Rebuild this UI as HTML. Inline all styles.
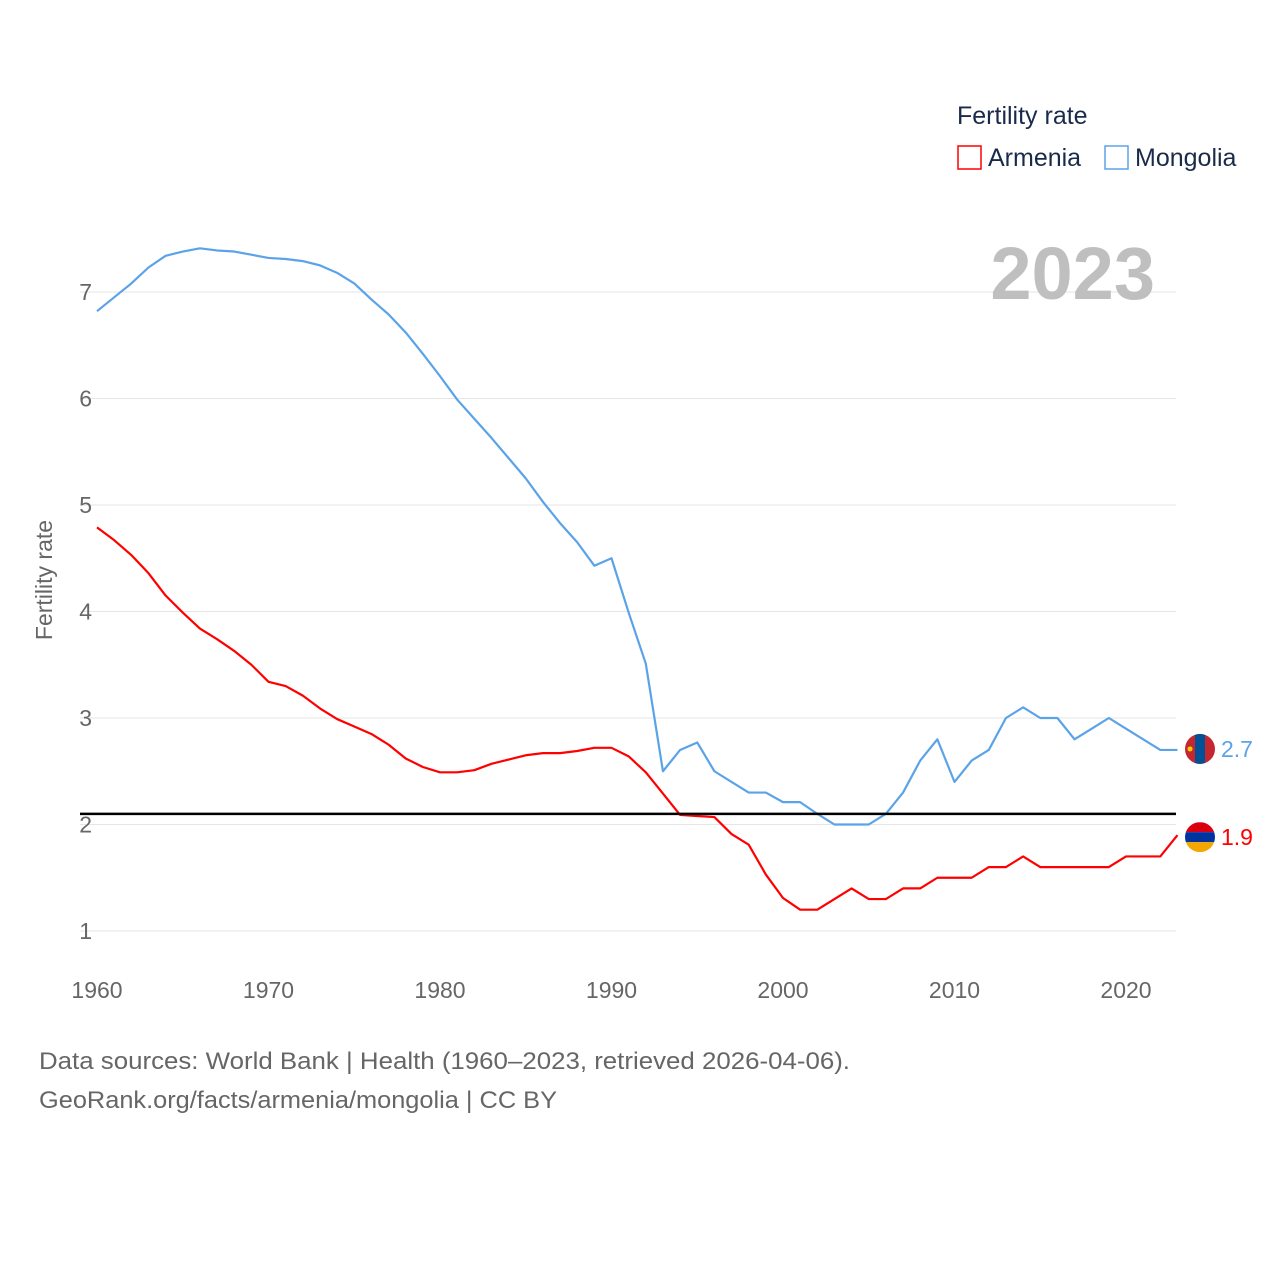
<!DOCTYPE html>
<html><head><meta charset="utf-8"><style>
html,body{margin:0;padding:0;background:#fff;}
svg{display:block;font-family:"Liberation Sans",sans-serif;}
</style></head><body>
<svg id="chart" width="1280" height="1280" viewBox="0 0 1280 1280">
<g id="grid"></g>
<g id="yticks"></g>
<g id="xticks"></g>
<text x="52" y="580" transform="rotate(-90 52 580)" text-anchor="middle" font-size="23" fill="#666">Fertility rate</text>
<text x="1155" y="299" text-anchor="end" font-size="74" font-weight="bold" fill="#bfbfbf">2023</text>
<g id="series"></g>
<line id="refline" stroke="#000" stroke-width="2.5"/>
<g>
<text x="957" y="124" font-size="25" fill="#1a2b4a">Fertility rate</text>
<g><rect x="958" y="146" width="23" height="23" fill="none" stroke="#f00" stroke-width="1.5"/><text x="988" y="166" font-size="25" fill="#1a2b4a">Armenia</text></g>
<g><rect x="1105" y="146" width="23" height="23" fill="none" stroke="#5ba3e8" stroke-width="1.5"/><text x="1135" y="166" font-size="25" fill="#1a2b4a">Mongolia</text></g>
</g>
<g id="ends"></g>
<text x="39" y="1069" font-size="24" fill="#666" textLength="811" lengthAdjust="spacingAndGlyphs">Data sources: World Bank | Health (1960–2023, retrieved 2026-04-06).</text>
<text x="39" y="1108" font-size="24" fill="#666" textLength="518" lengthAdjust="spacingAndGlyphs">GeoRank.org/facts/armenia/mongolia | CC BY</text>
</svg>
<script>
const years=[];for(let y=1960;y<=2023;y++)years.push(y);
const mongolia=[6.82,6.95,7.08,7.23,7.34,7.38,7.41,7.39,7.38,7.35,7.32,7.31,7.29,7.25,7.18,7.08,6.93,6.79,6.62,6.42,6.21,5.99,5.81,5.63,5.44,5.25,5.03,4.83,4.65,4.43,4.5,3.99,3.51,2.5,2.7,2.77,2.5,2.4,2.3,2.3,2.21,2.21,2.1,2.0,2.0,2.0,2.1,2.3,2.6,2.8,2.4,2.6,2.7,3.0,3.1,3.0,3.0,2.8,2.9,3.0,2.9,2.8,2.7,2.7];
const armenia=[4.79,4.67,4.53,4.36,4.15,3.99,3.84,3.74,3.63,3.5,3.34,3.3,3.21,3.09,2.99,2.92,2.85,2.75,2.62,2.54,2.49,2.49,2.51,2.57,2.61,2.65,2.67,2.67,2.69,2.72,2.72,2.64,2.49,2.29,2.09,2.08,2.07,1.91,1.81,1.53,1.31,1.2,1.2,1.3,1.4,1.3,1.3,1.4,1.4,1.5,1.5,1.5,1.6,1.6,1.7,1.6,1.6,1.6,1.6,1.6,1.7,1.7,1.7,1.9];
const yTicks=[1,2,3,4,5,6,7];
const xTicks=[1960,1970,1980,1990,2000,2010,2020];
const refValue=2.1;
const X=y=>97+(y-1960)*17.15;
const Y=v=>931-(v-1)*106.5;
const NS="http://www.w3.org/2000/svg";
function mk(t,a,p){const e=document.createElementNS(NS,t);for(const k in a)e.setAttribute(k,a[k]);p.appendChild(e);return e;}
const grid=document.getElementById('grid'),yt=document.getElementById('yticks'),xt=document.getElementById('xticks');
yTicks.forEach(v=>{
 const l=mk('line',{x1:80,x2:1176,y1:Y(v),y2:Y(v),stroke:'#e6e6e6','stroke-width':1},grid);
 
 
 const t=mk('text',{x:92,y:Y(v)+8,'text-anchor':'end','font-size':23,fill:'#666'},yt);t.textContent=v;
 
 
});
xTicks.forEach(v=>{
 const t=mk('text',{x:X(v),y:998,'text-anchor':'middle','font-size':23,fill:'#666'},xt);t.textContent=v;
 
 
});
const s=document.getElementById('series');
[[mongolia,'#5ba3e8','mongolia-line'],[armenia,'#f00','armenia-line']].forEach(([d,c,n])=>{
 const p=mk('polyline',{points:d.map((v,i)=>X(years[i])+','+Y(v)).join(' '),fill:'none',stroke:c,'stroke-width':2.2,'stroke-linejoin':'round'},s);
 
 
});
const r=document.getElementById('refline');
r.setAttribute('x1',80);r.setAttribute('x2',1176);r.setAttribute('y1',Y(refValue));r.setAttribute('y2',Y(refValue));
const ends=document.getElementById('ends');
const lm=mongolia[mongolia.length-1],la=armenia[armenia.length-1];
const fm=mk('g',{},ends);


const cy1=Y(lm)-1;
const cp1=mk('clipPath',{id:'c1'},fm);mk('circle',{cx:1200,cy:cy1,r:15},cp1);
const gm=mk('g',{'clip-path':'url(#c1)'},fm);
mk('rect',{x:1185,y:cy1-15,width:30,height:30,fill:'#c4272f'},gm);
mk('rect',{x:1195,y:cy1-15,width:10,height:30,fill:'#015197'},gm);
mk('circle',{cx:1190,cy:cy1,r:2.5,fill:'#f9cf02'},gm);
const tm=mk('text',{x:1221,y:cy1+8,'font-size':23,fill:'#5ba3e8'},ends);tm.textContent=lm.toFixed(1);


const fa=mk('g',{},ends);


const cy2=Y(la)+2;
const cp=mk('clipPath',{id:'c2'},fa);mk('circle',{cx:1200,cy:cy2,r:15},cp);
const ga=mk('g',{'clip-path':'url(#c2)'},fa);
mk('rect',{x:1185,y:cy2-15,width:30,height:10,fill:'#d90012'},ga);
mk('rect',{x:1185,y:cy2-5,width:30,height:10,fill:'#0033a0'},ga);
mk('rect',{x:1185,y:cy2+5,width:30,height:10,fill:'#f2a800'},ga);
const ta=mk('text',{x:1221,y:cy2+8,'font-size':23,fill:'#f00'},ends);ta.textContent=la.toFixed(1);


</script>
</body></html>
